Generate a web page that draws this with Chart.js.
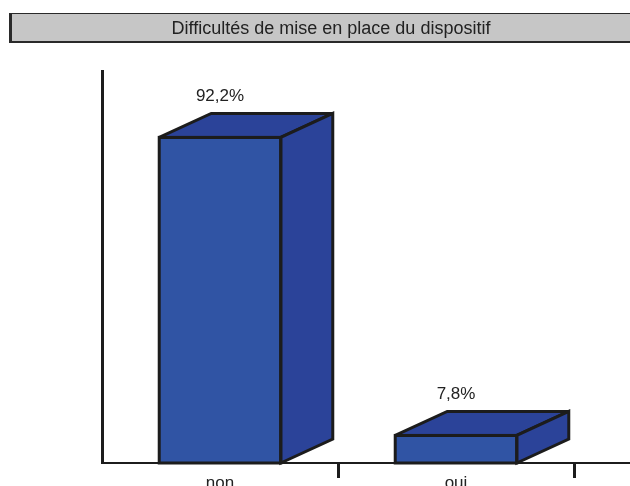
<!DOCTYPE html>
<html>
<head>
<meta charset="utf-8">
<script src="https://cdn.jsdelivr.net/npm/chart.js@4"></script>
<style>
html,body{margin:0;padding:0;background:#fff;}
#wrap{width:630px;height:486px;position:relative;}
</style>
</head>
<body>
<div id="wrap"><canvas id="c" width="630" height="486"></canvas></div>
<script>
const titleText = "Difficultés de mise en place du dispositif";
const categories = ["non", "oui"];
const values = [92.2, 7.8];
const valueLabels = ["92,2%", "7,8%"];

const FRONT = "#3054a4";
const SIDE = "#2b4399";
const EDGE = "#1c1c1c";
const DX = 52, DY = 24;

const boxPlugin = {
  id: "titleBox",
  beforeDraw(chart) {
    const ctx = chart.ctx;
    ctx.save();
    ctx.fillStyle = "#c6c6c6";
    ctx.fillRect(9, 13, 640, 30);
    ctx.strokeStyle = "#2a2a2a";
    ctx.lineWidth = 1;
    ctx.beginPath(); ctx.moveTo(9, 13.5); ctx.lineTo(640, 13.5); ctx.stroke();
    ctx.lineWidth = 2;
    ctx.beginPath(); ctx.moveTo(9, 42); ctx.lineTo(640, 42); ctx.stroke();
    ctx.lineWidth = 3;
    ctx.beginPath(); ctx.moveTo(10.5, 13); ctx.lineTo(10.5, 43); ctx.stroke();
    ctx.restore();
  }
};

const bar3d = {
  id: "bar3d",
  afterDatasetsDraw(chart) {
    const ctx = chart.ctx;
    const meta = chart.getDatasetMeta(0);
    const area = chart.chartArea;
    ctx.save();
    ctx.strokeStyle = EDGE;
    ctx.lineWidth = 2;
    ctx.beginPath(); ctx.moveTo(area.right - 1, area.bottom); ctx.lineTo(chart.width, area.bottom); ctx.stroke();
    meta.data.forEach((bar, i) => {
      const p = bar.getProps(["x", "y", "base", "width"], true);
      const L = p.x - p.width / 2, R = p.x + p.width / 2, T = p.y, B = p.base;
      ctx.lineJoin = "miter";
      ctx.miterLimit = 2;
      ctx.lineWidth = 3;
      ctx.strokeStyle = EDGE;
      ctx.fillStyle = SIDE;
      ctx.beginPath();
      ctx.moveTo(L, T); ctx.lineTo(L + DX, T - DY); ctx.lineTo(R + DX, T - DY); ctx.lineTo(R, T); ctx.closePath();
      ctx.fill(); ctx.stroke();
      ctx.beginPath();
      ctx.moveTo(R, T); ctx.lineTo(R + DX, T - DY); ctx.lineTo(R + DX, B - DY); ctx.lineTo(R, B); ctx.closePath();
      ctx.fill(); ctx.stroke();
      ctx.strokeRect(L, T, R - L, B - T);
      ctx.fillStyle = "#222";
      ctx.font = "17px 'Liberation Sans', Arial, sans-serif";
      ctx.textAlign = "center";
      ctx.textBaseline = "middle";
      ctx.fillText(valueLabels[i], p.x, T - DY - 17);
    });
    ctx.restore();
  }
};

new Chart(document.getElementById("c"), {
  type: "bar",
  data: {
    labels: categories,
    datasets: [{
      data: values,
      backgroundColor: FRONT,
      borderWidth: 0,
      categoryPercentage: 1.0,
      barPercentage: 0.515
    }]
  },
  options: {
    responsive: false,
    animation: false,
    devicePixelRatio: 1,
    layout: { padding: { left: 88, right: 56, top: 0, bottom: 0 } },
    plugins: {
      legend: { display: false },
      tooltip: { enabled: false },
      title: {
        display: true,
        text: titleText,
        color: "#222",
        font: { family: "'Liberation Sans', Arial, sans-serif", size: 18, weight: "normal" },
        padding: { top: 18, bottom: 31.4 }
      }
    },
    scales: {
      x: {
        afterFit(scale) { scale.height = 23; },
        grid: {
          display: true,
          drawOnChartArea: false,
          drawTicks: true,
          tickLength: 15,
          lineWidth: 3,
          color: (c) => c.index === 0 ? "rgba(0,0,0,0)" : EDGE
        },
        border: { display: true, color: EDGE, width: 2 },
        ticks: {
          color: "#222",
          padding: -5,
          font: { family: "'Liberation Sans', Arial, sans-serif", size: 17 }
        }
      },
      y: {
        min: 0,
        max: 111,
        afterFit(scale) { scale.width = 14; },
        grid: { display: false, drawTicks: false },
        border: { display: true, color: EDGE, width: 3 },
        ticks: { display: false }
      }
    }
  },
  plugins: [boxPlugin, bar3d]
});
</script>
</body>
</html>
